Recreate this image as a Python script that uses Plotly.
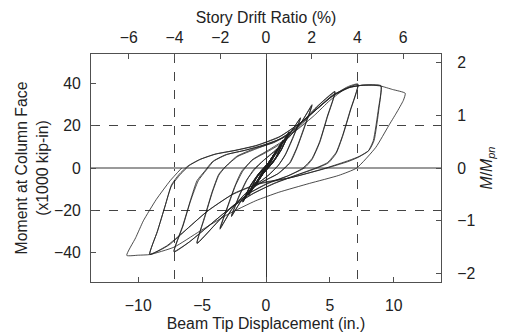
import plotly.graph_objects as go

# (beam tip displacement [in.], moment at column face [x1000 kip-in])
elastic_cycles = [
    (0, 0), (0.67, 6.6), (0.3, 2.8), (-0.1, -1.2), (-0.67, -6.3), (-0.3, -2.5), (0.1, 1.3),
    (0.67, 6.8), (0.28, 2.6), (-0.12, -1.5), (-0.66, -6.5), (-0.28, -2.3), (0.12, 1.5),
    (0.68, 6.9), (0.3, 2.9), (-0.1, -1.3), (-0.68, -6.6), (-0.3, -2.6), (0.1, 1.2),
    (0.67, 7.0), (0.32, 3.0), (-0.14, -1.6), (-0.67, -6.7), (-0.32, -2.7), (0.14, 1.6),
    (0.9, 8.8), (0.45, 3.6), (-0.15, -2.0), (-0.9, -8.6), (-0.45, -3.4), (0.15, 2.1),
    (0.9, 9.0), (0.42, 3.3), (-0.18, -2.3), (-0.9, -8.8), (-0.42, -3.2), (0.18, 2.4),
    (0.91, 9.1), (0.44, 3.5), (-0.16, -2.1), (-0.91, -8.9), (-0.44, -3.5), (0.16, 2.2),
    (0.92, 9.3), (0.47, 3.8), (-0.2, -2.5), (-0.92, -9.1), (-0.47, -3.7), (0.2, 2.6),
    (1.35, 12.8), (0.8, 5.2), (-0.3, -3.2), (-1.35, -12.4), (-0.8, -5.0), (0.3, 3.4),
    (1.35, 13.0), (0.75, 4.8), (-0.35, -3.5), (-1.35, -12.6), (-0.75, -4.8), (0.35, 3.6),
    (1.36, 13.2), (0.78, 5.0), (-0.32, -3.4), (-1.36, -12.8), (-0.78, -5.1), (0.32, 3.5),
    (1.36, 13.4), (0.82, 5.5), (-0.38, -3.8), (-1.37, -13.0), (-0.82, -5.4), (0.38, 3.9),
    (1.0, 9.5), (1.8, 16.5), (1.2, 8.5), (0.6, 3.0), (-0.4, -4.0), (-1.1, -9.0), (-1.8, -15.5),
    (-1.2, -8.0), (-0.6, -2.8), (0.4, 4.0), (1.05, 9.6),
    (1.8, 16.8), (1.2, 8.8), (0.55, 2.6), (-0.45, -4.3), (-1.1, -9.2), (-1.8, -15.8),
    (-1.2, -8.3), (-0.55, -2.5), (0.45, 4.2), (1.05, 9.6),
    (1.81, 17.0), (1.22, 9.0), (0.5, 2.3), (-0.5, -4.6), (-1.12, -9.5), (-1.81, -16.0),
    (-1.22, -8.5), (-0.5, -2.2), (0.5, 4.5), (1.1, 10.0),
    (1.82, 17.2), (1.25, 9.2), (0.48, 2.1), (-0.55, -4.8), (-1.15, -9.8), (-1.82, -16.2),
    (-1.25, -8.8), (-0.48, -2.0), (0.55, 4.8),
]

cycles_1p5pct = [
    (1.4, 11.5), (2.1, 18.5), (2.7, 23.5), (2.1, 14.0), (1.5, 6.0), (1.0, 1.5), (0.2, -3.5),
    (-0.8, -8.0), (-1.8, -14.5), (-2.7, -22.5), (-2.1, -13.0), (-1.5, -5.5), (-0.9, -0.8),
    (-0.2, 3.5), (0.8, 8.5), (1.8, 15.5), (2.7, 23.8), (2.1, 14.5), (1.5, 6.3), (0.95, 1.2),
    (0.1, -3.8), (-0.9, -8.5), (-1.9, -15.0), (-2.7, -23.0), (-2.1, -13.5), (-1.5, -5.8),
    (-0.95, -0.6), (-0.2, 3.6),
]

cycles_2pct = [
    (0.8, 8.8), (1.8, 14.5), (2.8, 22.0), (3.6, 29.5), (3.0, 19.0), (2.4, 9.0), (1.9, 2.5),
    (1.0, -2.5), (-0.3, -6.5), (-1.5, -11.5), (-2.6, -19.0), (-3.6, -28.5), (-3.0, -18.0),
    (-2.4, -8.0), (-1.9, -1.5), (-1.0, 4.0), (0.2, 8.0), (1.4, 12.5), (2.6, 20.0), (3.6, 30.0),
    (3.0, 19.5), (2.4, 9.5), (1.85, 2.5), (0.9, -2.8), (-0.4, -7.0), (-1.6, -12.0),
    (-2.7, -19.5), (-3.6, -29.0), (-3.0, -18.5), (-2.4, -8.5), (-1.85, -1.8), (-1.1, 3.8),
]

cycles_3pct = [
    (0.2, 8.5), (1.5, 13.5), (2.8, 20.5), (4.0, 29.0), (5.4, 36.0), (4.8, 24.0), (4.2, 12.0),
    (3.6, 4.0), (3.0, 0.0), (1.8, -3.5), (0.2, -7.0), (-1.2, -11.5), (-2.6, -18.0),
    (-4.0, -27.0), (-5.4, -35.5), (-4.8, -23.0), (-4.2, -11.0), (-3.7, -3.0), (-3.2, 0.5),
    (-2.2, 5.5), (-0.8, 9.0), (0.7, 12.5), (2.3, 18.5), (3.8, 28.0), (5.4, 36.3), (4.8, 24.5),
    (4.2, 12.5), (3.6, 4.5), (2.9, 0.0), (1.7, -3.8), (0.1, -7.5), (-1.3, -12.0), (-2.7, -18.5),
    (-4.1, -27.5), (-5.4, -35.8), (-4.8, -23.5), (-4.2, -11.5), (-3.7, -3.5), (-3.25, 0.0),
    (-2.3, 5.5), (-0.9, 9.2),
]

cycles_4pct = [
    (0.6, 12.0), (2.4, 18.0), (3.8, 25.0), (5.0, 32.0), (6.2, 37.5), (7.2, 39.5), (6.6, 27.0),
    (6.0, 15.0), (5.5, 7.0), (4.9, 2.5), (4.0, 0.0), (2.5, -3.2), (0.8, -7.0), (-1.0, -12.0),
    (-2.8, -19.0), (-4.5, -27.5), (-6.0, -35.0), (-7.2, -39.5), (-6.5, -27.0), (-5.9, -15.0),
    (-5.4, -6.0), (-4.8, -1.5), (-4.2, 3.0), (-3.2, 6.2), (-1.8, 8.2), (-0.4, 10.5), (1.2, 14.0),
    (2.6, 20.5), (4.0, 28.0), (5.3, 34.5), (6.4, 38.5), (7.2, 39.8), (6.6, 27.5), (6.0, 15.5),
    (5.5, 7.5), (4.8, 2.5), (3.9, 0.0), (2.3, -3.5), (0.6, -7.3), (-1.1, -12.5), (-2.9, -19.5),
    (-4.6, -28.0), (-6.1, -35.5), (-7.2, -39.8), (-6.5, -27.5), (-5.9, -15.5), (-5.3, -6.0),
    (-4.7, -1.2), (-4.1, 3.2), (-3.0, 6.5), (-1.6, 8.4), (-0.2, 10.8),
]

cycles_5pct = [
    (1.4, 14.5), (2.8, 21.5), (4.1, 28.5), (5.2, 34.5), (6.5, 38.2), (7.5, 39.2), (8.3, 39.4),
    (9.0, 39.0), (8.85, 28.5), (8.46, 13.0), (8.07, 8.4), (7.3, 5.5), (6.5, 3.6), (4.7, 0.0),
    (2.05, -4.4), (-0.5, -7.2), (-2.5, -12.0), (-4.5, -20.0), (-6.2, -29.0), (-7.6, -36.5),
    (-9.1, -41.0), (-8.5, -30.0), (-7.9, -18.0), (-7.4, -8.0), (-6.8, -3.0), (-6.1, 1.0),
    (-5.2, 4.0), (-4.0, 6.5), (-2.5, 8.2), (-0.8, 10.5), (1.0, 14.5), (2.6, 21.0), (4.0, 28.0),
    (5.2, 34.0), (6.5, 38.0), (7.5, 39.2), (8.3, 39.3), (9.0, 38.8), (8.8, 28.0), (8.4, 13.0),
    (8.0, 8.0), (7.2, 5.0), (6.4, 3.0), (4.5, -0.5), (1.8, -4.8), (-0.7, -7.8), (-2.7, -12.8),
    (-4.7, -21.0), (-6.4, -30.0), (-7.8, -37.0), (-9.1, -40.8), (-8.5, -30.0), (-7.9, -18.0),
    (-7.4, -8.5), (-6.7, -3.0), (-6.0, 1.2), (-5.1, 4.2), (-3.9, 6.7), (-2.4, 8.4), (-0.7, 10.8),
]

cycle_6pct = [
    (1.1, 15.0), (2.7, 21.5), (4.1, 28.8), (5.3, 34.6), (6.6, 38.3), (7.6, 39.2), (8.4, 39.2),
    (9.0, 38.8), (9.9, 37.2), (10.9, 35.4), (10.75, 32.0), (10.2, 26.0), (9.6, 20.0),
    (8.6, 9.8), (7.1, 0.0), (5.7, -3.5), (3.4, -7.3), (1.0, -11.5), (-0.8, -15.5),
    (-3.0, -22.0), (-5.2, -30.0), (-7.2, -37.5), (-9.1, -41.0), (-10.0, -41.3),
    (-10.9, -41.4), (-10.2, -33.0), (-9.6, -25.0), (-8.6, -15.0), (-7.5, -6.0), (-6.6, 0.0),
]

M_PN = 25.0          # plastic moment, x1000 kip-in (right axis scale)
IN_PER_PCT = 1.79    # beam tip displacement per 1 % story drift (top axis scale)
X_LIM = 13.7         # in.
Y_LIM = 54.0         # x1000 kip-in
drift_ticks = [-6, -4, -2, 0, 2, 4, 6]
drift_refs = [-4, 4]
moment_refs = [-20, 20]
disp_ticks = [-10, -5, 0, 5, 10]
moment_ticks = [-40, -20, 0, 20, 40]
ratio_ticks = [-2, -1, 0, 1, 2]

segments = [elastic_cycles, cycles_1p5pct, cycles_2pct, cycles_3pct,
            cycles_4pct, cycles_5pct, cycle_6pct]
xs, ys = [], []
for seg in segments:
    for d, m in seg:
        xs.append(d)
        ys.append(m)

FONT = "Liberation Sans, Arial, sans-serif"
FS = 15.8
AX = "#505050"
TXT = "#222"

fig = go.Figure()
fig.add_trace(go.Scatter(x=xs, y=ys, mode="lines",
                         line=dict(color="#1e1e1e", width=0.8, shape="spline", smoothing=0.5),
                         hoverinfo="skip", showlegend=False))
fig.add_trace(go.Scatter(x=[], y=[], xaxis="x2", yaxis="y2", showlegend=False))
fig.add_trace(go.Scatter(x=[], y=[], xaxis="x3", yaxis="y3", showlegend=False))

common = dict(ticks="inside", ticklen=5, tickcolor=AX, tickwidth=1,
              showline=True, linecolor=AX, linewidth=1, showgrid=False,
              automargin=False,
              tickfont=dict(family=FONT, size=FS, color=TXT))

fig.update_layout(
    width=505, height=336,
    margin=dict(l=91, r=64, t=54, b=54, autoexpand=False),
    paper_bgcolor="white", plot_bgcolor="white",
    font=dict(family=FONT, size=FS, color=TXT),
    xaxis=dict(range=[-X_LIM, X_LIM], tickvals=disp_ticks, zeroline=True,
               zerolinecolor="#333", zerolinewidth=1,
               title=dict(text="Beam Tip Displacement (in.)", standoff=4,
                          font=dict(family=FONT, size=FS, color=TXT)),
               ticklabelstandoff=9, **common),
    xaxis2=dict(range=[-X_LIM / IN_PER_PCT, X_LIM / IN_PER_PCT], tickvals=drift_ticks,
                overlaying="x", side="top", anchor="y", zeroline=False,
                title=dict(text="Story Drift Ratio (%)", standoff=1,
                           font=dict(family=FONT, size=FS, color=TXT)),
                ticklabelstandoff=4, **common),
    yaxis=dict(range=[-Y_LIM, Y_LIM], tickvals=moment_ticks, zeroline=True,
               zerolinecolor="#9a9a9a", zerolinewidth=1.5,
               title=dict(text="Moment at Column Face<br>(x1000 kip-in)", standoff=1,
                          font=dict(family=FONT, size=FS, color=TXT)),
               ticklabelstandoff=6, **common),
    yaxis2=dict(range=[-Y_LIM / M_PN, Y_LIM / M_PN], tickvals=ratio_ticks,
                overlaying="y", side="right", anchor="x", zeroline=False,
                title=dict(text="<i>M</i>/<i>M</i><sub><i>pn</i></sub>", standoff=6,
                           font=dict(family=FONT, size=FS, color=TXT)),
                ticklabelstandoff=12, **common),
    xaxis3=dict(range=[-X_LIM / IN_PER_PCT, X_LIM / IN_PER_PCT], tickvals=drift_refs,
                overlaying="x", anchor="y", showgrid=True, griddash="dash",
                gridcolor="#444", gridwidth=1, showticklabels=False, ticks="",
                showline=False, zeroline=False, automargin=False),
    yaxis3=dict(range=[-Y_LIM, Y_LIM], tickvals=moment_refs, overlaying="y", anchor="x",
                showgrid=True, griddash="dash", gridcolor="#444", gridwidth=1,
                showticklabels=False, ticks="", showline=False, zeroline=False,
                automargin=False),
)

fig.write_html("out.html")
